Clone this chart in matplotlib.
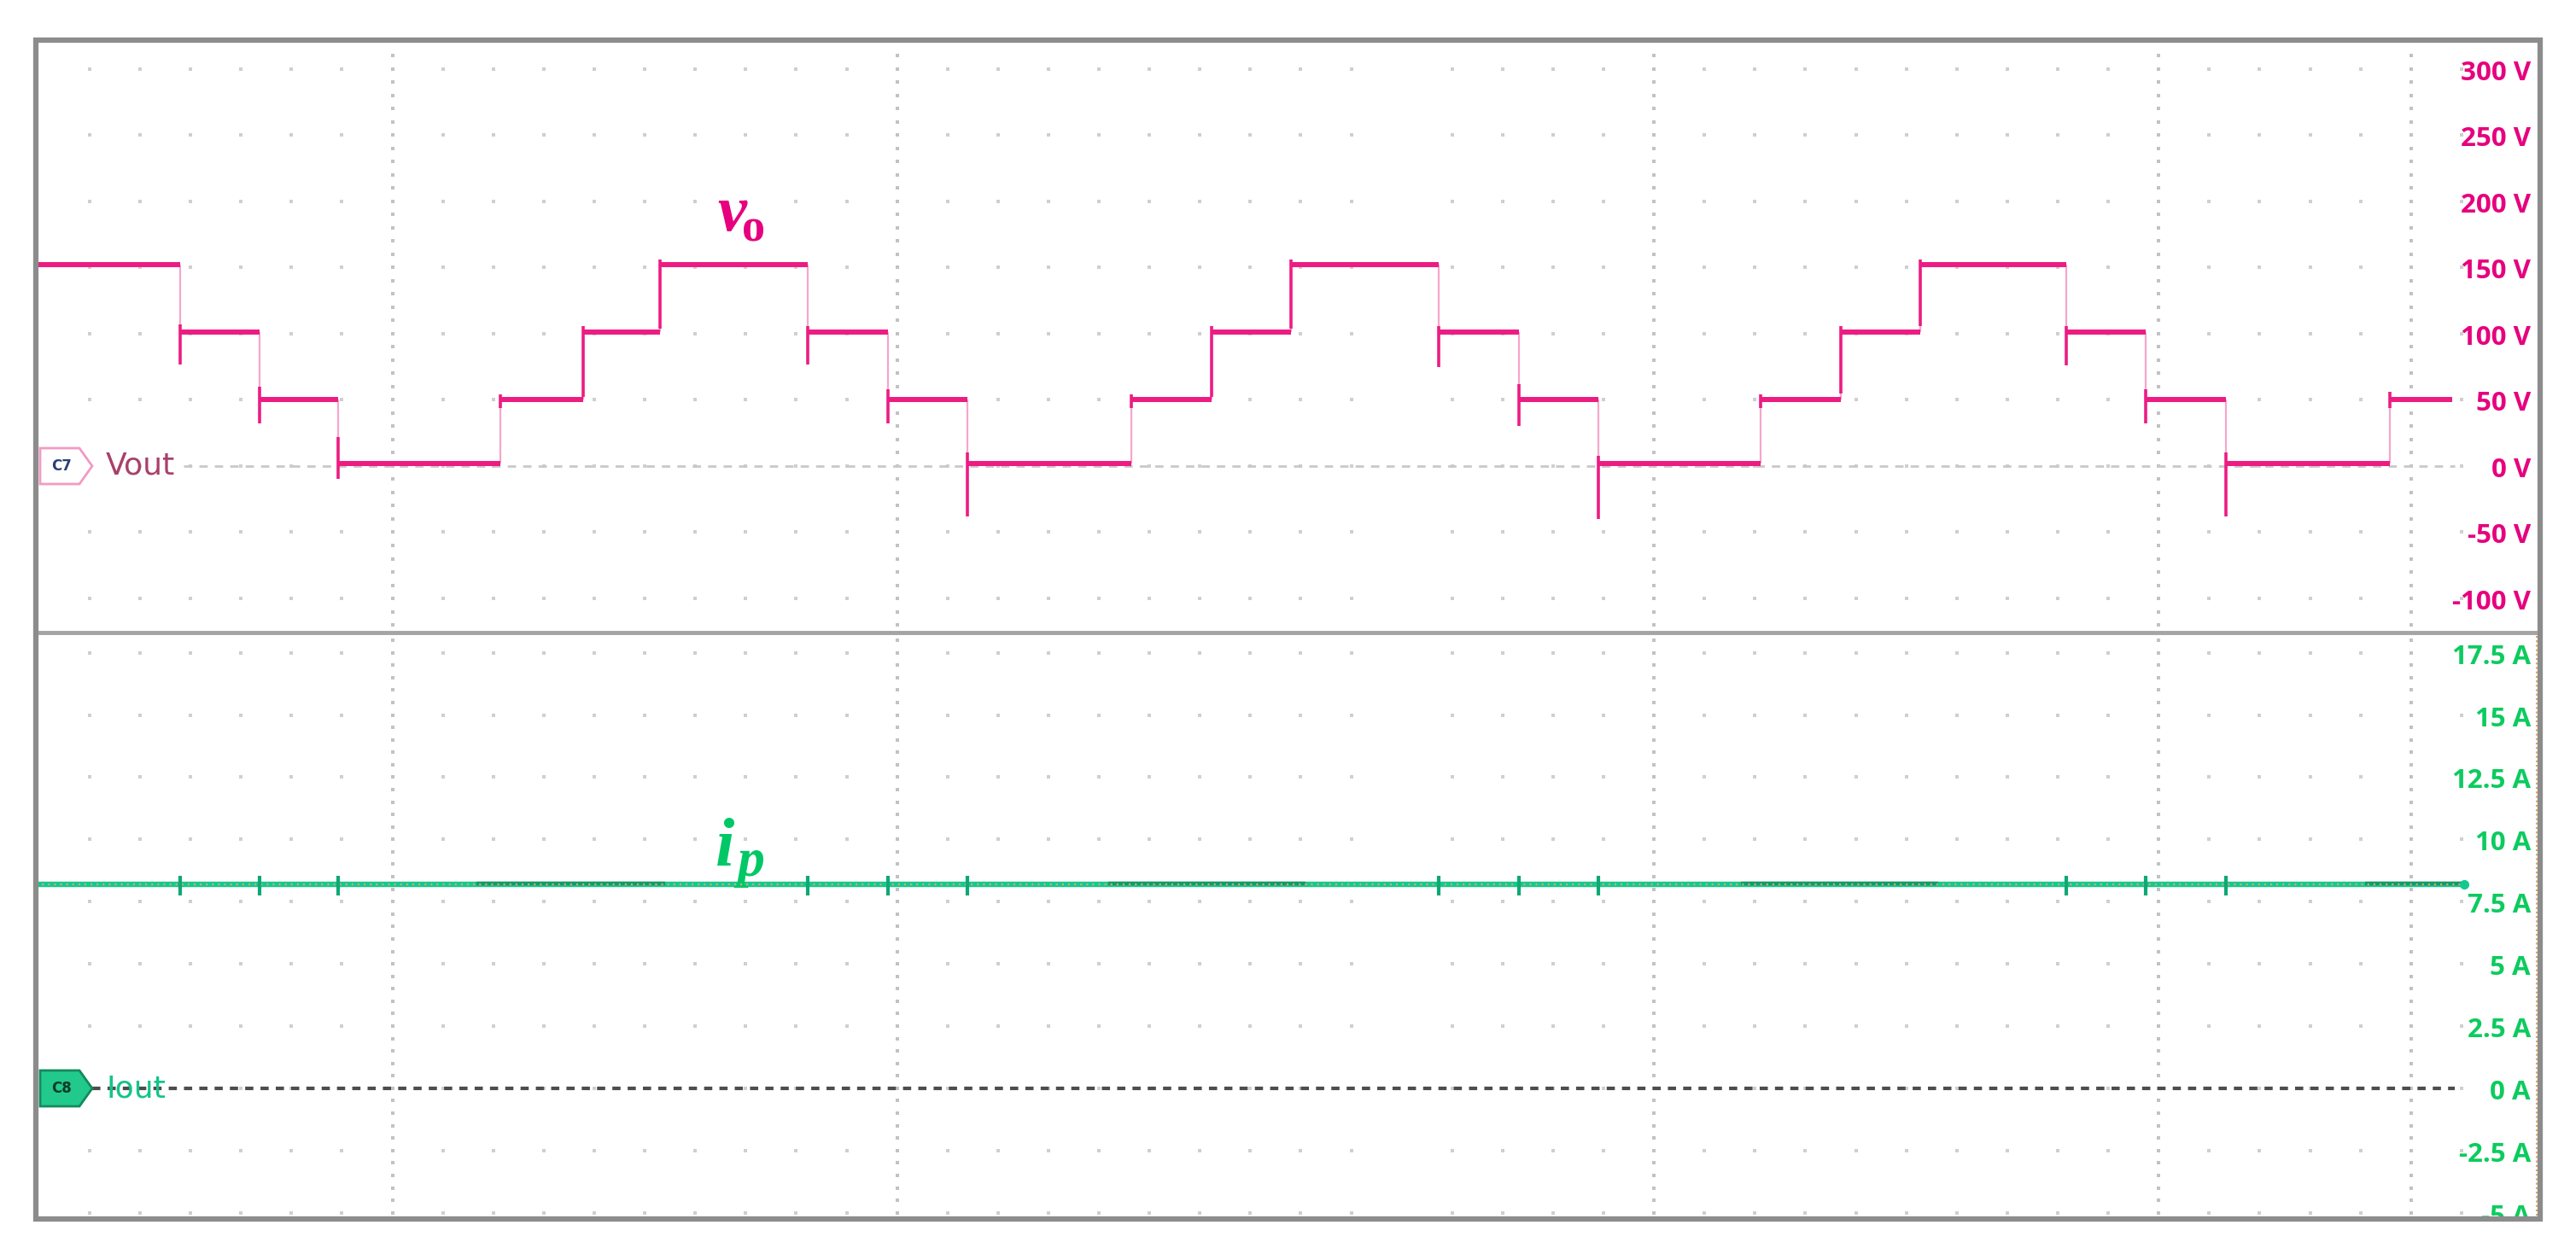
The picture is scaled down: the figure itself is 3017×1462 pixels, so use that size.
import numpy as np
import matplotlib.pyplot as plt
import matplotlib.transforms as mtransforms
from matplotlib.patches import Polygon, Rectangle
from matplotlib.lines import Line2D

W, H = 3017, 1462

# Vout (channel 7) staircase, time in ms
step_t = [0, 4.58, 7.08, 9.58, 14.74, 17.34, 19.79, 24.48, 27.03, 29.53, 34.74, 37.29,
          39.79, 44.48, 47.03, 49.53, 54.69, 57.24, 59.74, 64.38, 66.88, 69.43, 74.64, 76.61]
step_v = [152, 101, 50, 2, 50, 101, 152, 101, 50, 2, 50, 101,
          152, 101, 50, 2, 50, 101, 152, 101, 50, 2, 50]
# switching spikes at each transition (V)
spike_lo = [77, 32, -10, 44, 52, 104, 77, 32, -38, 44, 52, 104,
            75, 30, -40, 44, 55, 106, 76, 32, -38, 44]
spike_hi = [107, 60, 22, 54, 106, 156, 106, 58, 10, 54, 106, 156,
            106, 62, 8, 54, 106, 156, 106, 58, 10, 56]

# Iout (channel 8)
ip_level = 8.2
ip_end = 76.98
ip_noisy_start = [13.96, 34.0, 54.06, 73.85]
ip_noisy_end = [19.95, 40.26, 60.31, 76.98]
ip_spike_t = [4.58, 7.08, 9.58, 24.48, 27.03, 29.53, 44.48, 47.03, 49.53, 64.38, 66.88, 69.43]

v_ticks = [300, 250, 200, 150, 100, 50, 0, -50, -100]
v_labels = ['300 V', '250 V', '200 V', '150 V', '100 V', '50 V', '0 V', '-50 V', '-100 V']
i_ticks = [17.5, 15, 12.5, 10, 7.5, 5, 2.5, 0, -2.5, -5]
i_labels = ['17.5 A', '15 A', '12.5 A', '10 A', '7.5 A', '5 A', '2.5 A', '0 A', '-2.5 A', '-5 A']

PINK = '#EC1C83'
PINK_TXT = '#E6007E'
PALE = '#F6A6CB'
GREEN = '#14C98F'
GREEN_TXT = '#0CCB5E'

fig = plt.figure(figsize=(W / 100, H / 100), dpi=100)
fig.patch.set_facecolor('white')


def fx(x):
    return x / W


def fy(y):
    return 1 - y / H


ax_v = fig.add_axes([fx(42), fy(741), 2933 / W, (741 - 47) / H])
ax_i = fig.add_axes([fx(42), fy(1428), 2933 / W, (1428 - 741) / H])
ax_v.set_xlim(0, 79.4)
ax_i.set_xlim(0, 79.4)
ax_v.set_ylim(-125.8, 321.9)
ax_i.set_ylim(-5.25, 18.31)
for ax in (ax_v, ax_i):
    ax.axis('off')

# graticule dots
cols = 1.705 + 1.6 * np.arange(48)
cols = np.delete(cols, 26)
major_cols = 1.705 + 1.6 * np.array([6, 16, 31, 41, 46])
for ax, rows, step, lo, hi in ((ax_v, v_ticks, 10, -120, 320), (ax_i, i_ticks, 0.5, -5, 18.5)):
    gx, gy = np.meshgrid(cols, rows)
    ax.plot(gx.ravel(), gy.ravel(), 's', ms=2.4, color='#CFCFCF', mew=0, zorder=1)
    vy = np.arange(lo, hi, step)
    mx, my = np.meshgrid(major_cols, vy)
    ax.plot(mx.ravel(), my.ravel(), 's', ms=2.4, color='#C2C2C2', mew=0, zorder=1)

# zero reference lines
ax_v.axhline(0, xmin=(215 - 42) / 2933, xmax=(2875 - 42) / 2933, color='#C9C9C9',
             lw=2.0, ls=(0, (3.5, 3)), zorder=2)
ax_i.axhline(0, xmin=(108 - 42) / 2933, xmax=(2875 - 42) / 2933, color='#4D4D4D',
             lw=3.0, ls=(0, (2.3, 2)), zorder=2)

# Vout trace
ax_v.vlines(step_t[1:-1], step_v[:-1], step_v[1:], color=PALE, lw=1.6, zorder=3)
ax_v.vlines(step_t[1:-1], spike_lo, spike_hi, color=PINK, lw=2.6, zorder=4)
ax_v.hlines(step_v, step_t[:-1], step_t[1:], color=PINK, lw=4.3, zorder=5)

# Iout trace
ax_i.hlines(ip_level, 0, ip_end, color=GREEN, lw=4.6, zorder=3)
ax_i.hlines([ip_level + 0.04] * len(ip_noisy_start), ip_noisy_start, ip_noisy_end,
            color='#129A68', lw=3.2, zorder=4)
ax_i.plot([0, ip_end], [ip_level, ip_level], ls=(0, (1, 2.2)), color='#E3A55A', lw=1.6, zorder=5)
ax_i.vlines(ip_spike_t, ip_level - 0.45, ip_level + 0.35, color='#0FA874', lw=3, zorder=5)
ax_i.plot([ip_end], [ip_level], 'o', ms=7, color=GREEN, zorder=6)

# right-hand scale labels
for ax, ticks, labels, col in ((ax_v, v_ticks, v_labels, PINK_TXT),
                               (ax_i, i_ticks, i_labels, GREEN_TXT)):
    tr = mtransforms.blended_transform_factory(ax.transAxes, ax.transData)
    tr = mtransforms.offset_copy(tr, fig=fig, y=-5, units='dots')
    for val, lab in zip(ticks, labels):
        ax.text((2964 - 42) / 2933, val, lab, transform=tr, ha='right', va='center',
                fontsize=22.5, fontweight='bold', family='Open Sans', color=col,
                clip_on=True, zorder=7)

# waveform names
ax_v.text(21.6, 178, 'v', family='Liberation Serif', style='italic', weight='bold',
          fontsize=55, color=PINK_TXT, va='baseline')
ax_v.text(22.38, 170, 'o', family='Liberation Serif', weight='bold',
          fontsize=39, color=PINK_TXT, va='baseline')
ax_i.text(21.55, 8.95, 'i', family='Liberation Serif', style='italic', weight='bold',
          fontsize=58, color='#00C866', va='baseline')
ax_i.text(22.25, 8.55, 'p', family='Liberation Serif', style='italic', weight='bold',
          fontsize=46, color='#00C866', va='baseline')

# channel tags
def tag(yc, face, edge, txt, txtcol):
    pts = [(47, yc - 21), (93, yc - 21), (108, yc), (93, yc + 21), (47, yc + 21)]
    poly = Polygon([(fx(a), fy(b)) for a, b in pts], closed=True, transform=fig.transFigure,
                   facecolor=face, edgecolor=edge, lw=2, zorder=8)
    fig.add_artist(poly)
    fig.text(fx(72), fy(yc), txt, ha='center', va='center', fontsize=12, weight='bold',
             color=txtcol, zorder=9)


tag(546, 'white', '#F29AC4', 'C7', '#2A3F7A')
tag(1275, '#22C98C', '#138A5E', 'C8', '#0B3B2A')
fig.text(fx(124), fy(546), 'Vout', ha='left', va='center', fontsize=26, color='#A8406A',
         family='DejaVu Sans', zorder=9)
fig.text(fx(124), fy(1275), 'Iout', ha='left', va='center', fontsize=26, color='#13C48A',
         family='DejaVu Sans', zorder=9)

# screen frame and divider
fig.add_artist(Line2D([fx(42), fx(2975)], [fy(741), fy(741)], color='#A4A4A4', lw=3.5, zorder=10))
fig.add_artist(Line2D([fx(2971), fx(2971)], [fy(745), fy(1424)], color='#E0A060', lw=1.5,
                      ls=(0, (1, 1.5)), zorder=10))
fig.add_artist(Rectangle((fx(42), fy(1428)), 2933 / W, (1428 - 47) / H, fill=False,
                         edgecolor='#8C8C8C', lw=4.5, transform=fig.transFigure, zorder=11))

fig.savefig('out.png', dpi=100, facecolor='white')
